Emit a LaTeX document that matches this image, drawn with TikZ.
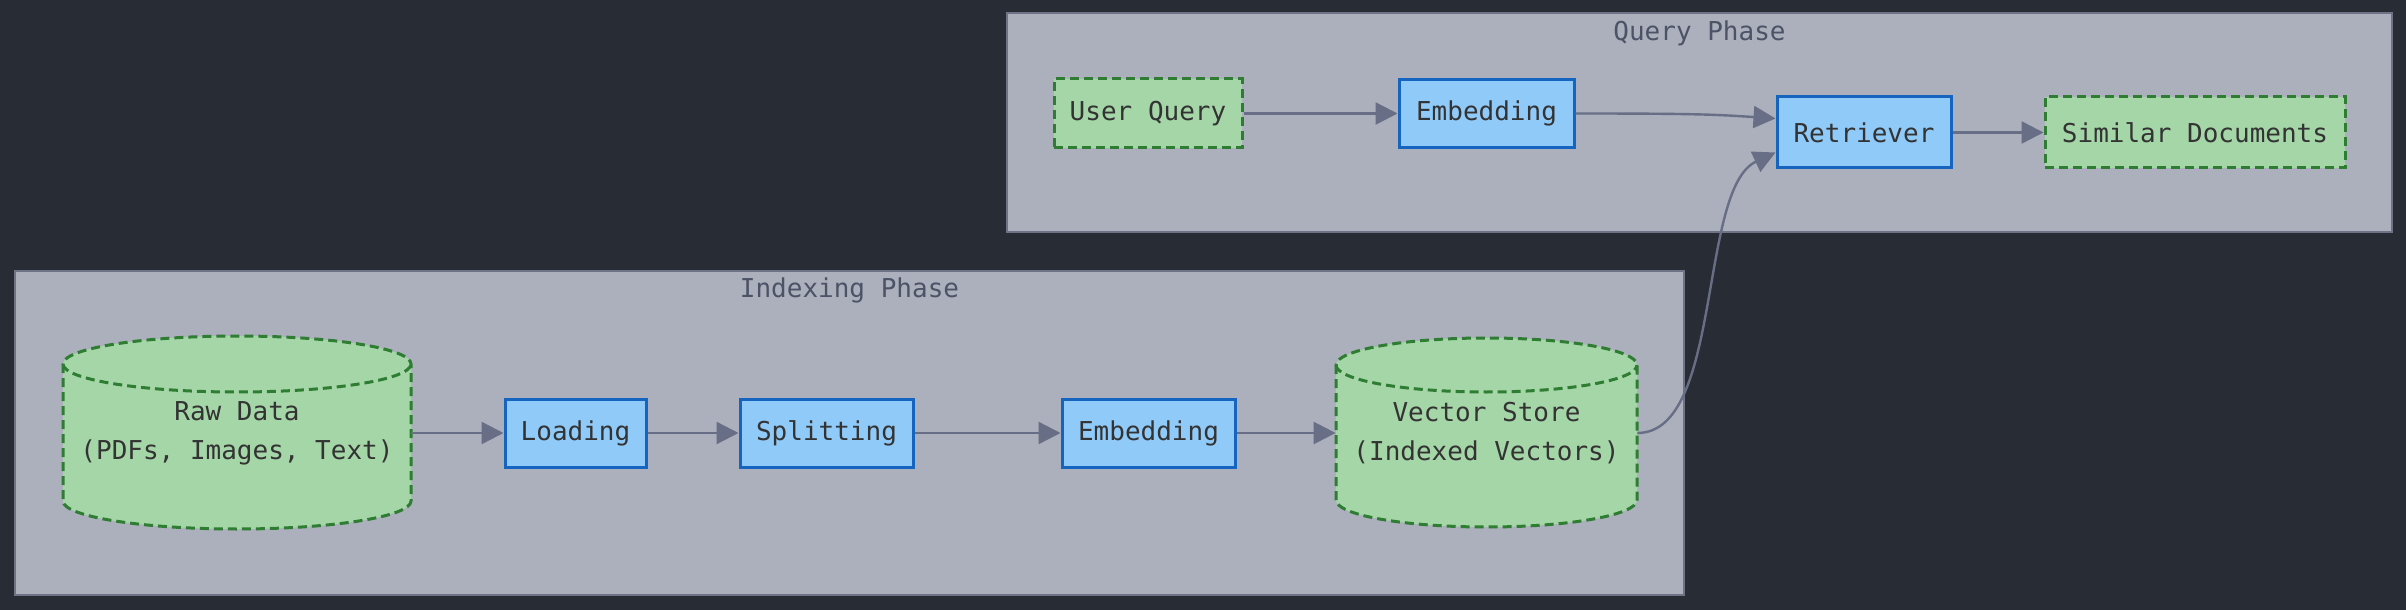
\documentclass[tikz,border=0pt]{standalone}
\usepackage{fontspec}
\setmonofont{DejaVu Sans Mono}
\usetikzlibrary{arrows.meta}
\definecolor{bg}{HTML}{282C34}
\definecolor{cfill}{HTML}{ABB0BC}
\definecolor{cborder}{HTML}{6E7486}
\definecolor{bfill}{HTML}{90CAF9}
\definecolor{bborder}{HTML}{1565C0}
\definecolor{gfill}{HTML}{A5D6A7}
\definecolor{gborder}{HTML}{2E7D32}
\definecolor{ecol}{HTML}{676E85}
\definecolor{txt}{HTML}{333333}
\definecolor{ttl}{HTML}{4C5366}
\begin{document}
\begin{tikzpicture}[x=0.5pt,y=0.5pt,
  every node/.style={font=\ttfamily\fontsize{13}{19.5}\selectfont, text=txt, inner sep=0pt, align=center},
  bluebox/.style={draw=bborder, fill=bfill, line width=1.5pt, minimum height=34pt},
  greenbox/.style={draw=gborder, fill=gfill, line width=1.5pt, dash pattern=on 4.5pt off 2.5pt, minimum height=34.5pt},
  gdash/.style={draw=gborder, line width=1.5pt, dash pattern=on 4.5pt off 2.5pt},
  cluster/.style={draw=cborder, fill=cfill, line width=0.8pt},
  ttlnode/.style={text=ttl},
  edge/.style={draw=ecol, line width=1.2pt, -{Triangle[length=11pt,width=11pt]}},
]
% background
\fill[bg] (0,0) rectangle (2406,-610);
\useasboundingbox (0,0) rectangle (2406,-610);

% clusters
\draw[cluster] (1007,-13) rectangle (2392,-232);
\node[ttlnode] (qtitle) at (1699.5,-33) {Query Phase};
\draw[cluster] (15,-271) rectangle (1684,-595);
\node[ttlnode] (ititle) at (849.5,-290) {Indexing Phase};

% cylinder shapes
\fill[gfill] (63,-364) -- (63,-501) arc[start angle=180,end angle=360,x radius=87pt,y radius=14pt] -- (411,-364) arc[start angle=0,end angle=180,x radius=87pt,y radius=14pt] -- cycle;
\draw[gdash] (63,-364) -- (63,-501) arc[start angle=180,end angle=360,x radius=87pt,y radius=14pt] -- (411,-364) arc[start angle=0,end angle=180,x radius=87pt,y radius=14pt];
\draw[gdash] (63,-364) arc[start angle=180,end angle=360,x radius=87pt,y radius=14pt];

\fill[gfill] (1336,-365) -- (1336,-500) arc[start angle=180,end angle=360,x radius=75.25pt,y radius=13.5pt] -- (1637,-365) arc[start angle=0,end angle=180,x radius=75.25pt,y radius=13.5pt] -- cycle;
\draw[gdash] (1336,-365) -- (1336,-500) arc[start angle=180,end angle=360,x radius=75.25pt,y radius=13.5pt] -- (1637,-365) arc[start angle=0,end angle=180,x radius=75.25pt,y radius=13.5pt];
\draw[gdash] (1336,-365) arc[start angle=180,end angle=360,x radius=75.25pt,y radius=13.5pt];

% indexing nodes
\node[minimum width=174pt, minimum height=96.5pt] (raw) at (237,-433) {Raw Data\\(PDFs, Images, Text)};
\node[bluebox, minimum width=70.5pt] (load) at (575.5,-433) {Loading};
\node[bluebox, minimum width=86.5pt] (split) at (826.5,-433) {Splitting};
\node[bluebox, minimum width=86.5pt] (emb1) at (1148.5,-433) {Embedding};
\node[minimum width=150.5pt, minimum height=94.5pt] (vec) at (1486.5,-433) {Vector Store\\(Indexed Vectors)};

% query nodes
\node[greenbox, minimum width=94pt] (uq) at (1148,-113.5) {User Query};
\node[bluebox, minimum width=87.5pt] (emb2) at (1486.5,-113.5) {Embedding};
\node[bluebox, minimum width=87pt, minimum height=35.5pt] (retr) at (1864,-132.5) {Retriever};
\node[greenbox, minimum width=150pt, minimum height=35.5pt] (sim) at (2195,-132.5) {Similar Documents};

% edges
\draw[edge] (raw.east) -- (load.west);
\draw[edge] (load.east) -- (split.west);
\draw[edge] (split.east) -- (emb1.west);
\draw[edge] (emb1.east) -- (vec.west);
\draw[edge] (uq.east) -- (emb2.west);
\draw[edge] (emb2.east) .. controls ([xshift=60pt]emb2.east) and ([xshift=-30pt,yshift=9pt]retr.west) .. ([yshift=7pt]retr.west);
\draw[edge] (vec.east) to[out=0,in=205,looseness=0.7] ([yshift=-10pt]retr.west);
\draw[edge] (retr.east) -- (sim.west);
\end{tikzpicture}
\end{document}
